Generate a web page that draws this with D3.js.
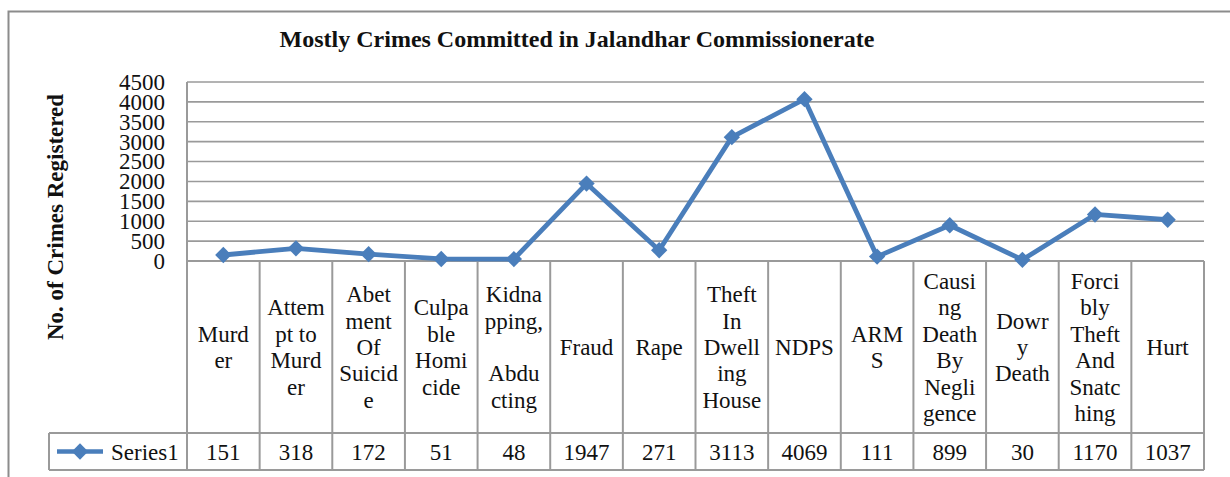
<!DOCTYPE html>
<html>
<head>
<meta charset="utf-8">
<script src="https://cdn.jsdelivr.net/npm/d3@7"></script>
<style>
  html, body { margin: 0; padding: 0; background: #fff; }
  svg text { font-family: "Liberation Serif", "Times New Roman", serif; fill: #111; }
</style>
</head>
<body>
<svg id="chart" width="1230" height="477"></svg>
<script>
// ---- data ----
const categories = ["Murder", "Attempt to Murder", "Abetment Of Suicide", "Culpable Homicide",
  "Kidnapping, Abducting", "Fraud", "Rape", "Theft In Dwelling House", "NDPS", "ARMS",
  "Causing Death By Negligence", "Dowry Death", "Forcibly Theft And Snatching", "Hurt"];
const categoryLines = [
  ["Murd", "er"], ["Attem", "pt to", "Murd", "er"], ["Abet", "ment", "Of", "Suicid", "e"],
  ["Culpa", "ble", "Homi", "cide"], ["Kidna", "pping,", "", "Abdu", "cting"], ["Fraud"], ["Rape"],
  ["Theft", "In", "Dwell", "ing", "House"], ["NDPS"], ["ARM", "S"],
  ["Causi", "ng", "Death", "By", "Negli", "gence"], ["Dowr", "y", "Death"],
  ["Forci", "bly", "Theft", "And", "Snatc", "hing"], ["Hurt"]];
const series1 = [151, 318, 172, 51, 48, 1947, 271, 3113, 4069, 111, 899, 30, 1170, 1037];
const seriesName = "Series1";
const yTicks = [0, 500, 1000, 1500, 2000, 2500, 3000, 3500, 4000, 4500];
const title = "Mostly Crimes Committed in Jalandhar Commissionerate";
const yTitle = "No. of Crimes Registered";

// ---- layout ----
const svg = d3.select("#chart");
const plotL = 187, plotR = 1204, plotT = 82, plotB = 261;
const catRowB = 433, valRowB = 470, legendL = 49;
const gridColor = "#9a9a9a";
const lineColor = "#4A7EBB";
const fs = 23;

const x = d3.scaleBand().domain(categories).range([plotL, plotR]).padding(0);
const y = d3.scaleLinear().domain([0, 4500]).range([plotB, plotT]);

// outer frame
svg.append("rect").attr("x", 8.5).attr("y", 11.5).attr("width", 1240).attr("height", 480)
  .attr("fill", "none").attr("stroke", "#8c8c8c").attr("stroke-width", 2);

// title
svg.append("text").attr("x", 577).attr("y", 47).attr("text-anchor", "middle")
  .attr("font-size", 24).attr("font-weight", "bold").text(title);

// y title
svg.append("text").attr("transform", "translate(63,217) rotate(-90)")
  .attr("text-anchor", "middle").attr("font-size", 23).attr("font-weight", "bold").text(yTitle);

// gridlines
svg.append("g").selectAll("line").data(yTicks.filter(d => d > 0)).join("line")
  .attr("x1", plotL).attr("x2", plotR).attr("y1", d => y(d)).attr("y2", d => y(d))
  .attr("stroke", gridColor).attr("stroke-width", 1.6);

// y axis with tick labels
const yAxis = d3.axisLeft(y).tickValues(yTicks).tickSize(0).tickPadding(22).tickFormat(d3.format("d"));
const yg = svg.append("g").attr("transform", `translate(${plotL},0)`).call(yAxis);
yg.select(".domain").remove();
yg.selectAll("text").attr("font-size", fs).attr("font-family", "Liberation Serif, serif")
  .attr("fill", "#111").attr("dy", "0.32em");

// table lines
const tbl = svg.append("g").attr("stroke", gridColor).attr("stroke-width", 2).attr("fill", "none");
tbl.append("line").attr("x1", plotL).attr("x2", plotL).attr("y1", plotT).attr("y2", valRowB);
tbl.append("line").attr("x1", plotL).attr("x2", plotR).attr("y1", plotB).attr("y2", plotB);
tbl.append("line").attr("x1", legendL).attr("x2", plotR).attr("y1", catRowB).attr("y2", catRowB);
tbl.append("line").attr("x1", legendL).attr("x2", plotR).attr("y1", valRowB).attr("y2", valRowB);
tbl.append("line").attr("x1", legendL).attr("x2", legendL).attr("y1", catRowB).attr("y2", valRowB);
tbl.selectAll("line.col").data(categories).join("line").attr("class", "col")
  .attr("x1", d => x(d) + x.bandwidth()).attr("x2", d => x(d) + x.bandwidth())
  .attr("y1", plotB).attr("y2", valRowB);

// category labels
const lh = 26.4;
const midCat = (plotB + catRowB) / 2;
categories.forEach((c, i) => {
  const lines = categoryLines[i];
  const t = svg.append("text").attr("text-anchor", "middle").attr("font-size", fs);
  const y0 = midCat - (lines.length - 1) * lh / 2;
  lines.forEach((ln, j) => {
    t.append("tspan").attr("x", x(c) + x.bandwidth() / 2).attr("y", y0 + j * lh)
      .attr("dy", "0.35em").text(ln);
  });
});

// value labels
const midVal = (catRowB + valRowB) / 2;
svg.append("g").selectAll("text").data(series1).join("text")
  .attr("x", (d, i) => x(categories[i]) + x.bandwidth() / 2).attr("y", midVal)
  .attr("dy", "0.35em").attr("text-anchor", "middle").attr("font-size", fs)
  .text(d => d);

// legend
const diamond = d3.symbol().type(d3.symbolDiamond2).size(170);
svg.append("line").attr("x1", 57).attr("x2", 103).attr("y1", midVal).attr("y2", midVal)
  .attr("stroke", lineColor).attr("stroke-width", 4.5);
svg.append("path").attr("d", diamond).attr("transform", `translate(80,${midVal})`)
  .attr("fill", lineColor);
svg.append("text").attr("x", 111).attr("y", midVal).attr("dy", "0.35em").attr("font-size", fs)
  .text(seriesName);

// line
const line = d3.line().x((d, i) => x(categories[i]) + x.bandwidth() / 2).y(d => y(d));
svg.append("path").datum(series1).attr("d", line).attr("fill", "none")
  .attr("stroke", lineColor).attr("stroke-width", 4.8).attr("stroke-linejoin", "round");
svg.append("g").selectAll("path").data(series1).join("path")
  .attr("d", diamond)
  .attr("transform", (d, i) => `translate(${x(categories[i]) + x.bandwidth() / 2},${y(d)})`)
  .attr("fill", lineColor);
</script>
</body>
</html>
